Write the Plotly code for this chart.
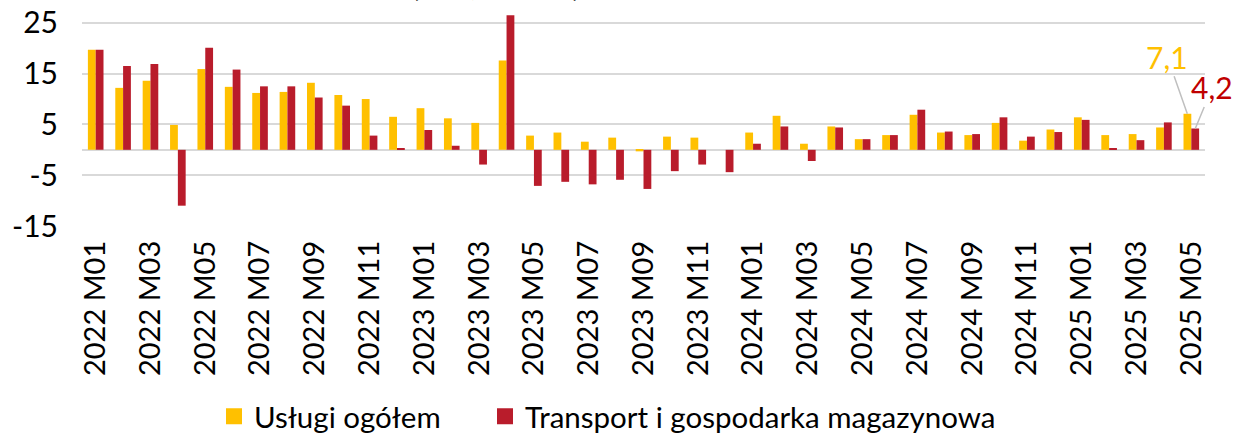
import plotly.graph_objects as go

years_months = []
for y in (2022, 2023, 2024, 2025):
    for m in range(1, 13):
        if y == 2025 and m > 5:
            break
        years_months.append(f"{y} M{m:02d}")
categories = years_months

uslugi = [19.7, 12.2, 13.6, 4.9, 15.9, 12.4, 11.2, 11.4, 13.2, 10.8, 10.0, 6.5,
          8.2, 6.2, 5.3, 17.6, 2.8, 3.4, 1.6, 2.4, -0.3, 2.6, 2.4, 0.0,
          3.4, 6.7, 1.2, 4.6, 2.1, 2.9, 6.9, 3.4, 2.9, 5.3, 1.8, 4.0,
          6.4, 2.9, 3.1, 4.4, 7.1]
transport = [19.7, 16.5, 16.9, -11.0, 20.1, 15.8, 12.5, 12.5, 10.3, 8.7, 2.8, 0.2,
             3.9, 0.8, -2.9, 26.5, -7.1, -6.3, -6.8, -5.9, -7.7, -4.2, -2.9, -4.4,
             1.2, 4.6, -2.2, 4.4, 2.1, 2.9, 7.9, 3.6, 3.1, 6.4, 2.6, 3.5,
             5.9, 0.3, 1.9, 5.4, 4.2]
y_ticks = [-15, -5, 5, 15, 25]
y_ticktext = ["-15", "-5", "5", "15", "25"]
x_ticks = categories[::2]
series_names = ["Usługi ogółem", "Transport i gospodarka magazynowa"]
colors = ["#FFC000", "#B91C2B"]
label_colors = ["#FFC000", "#C00000"]
title_text = "(r/r, w %)"

FONT = "Lato"
fig = go.Figure()
legend_ids = ["legend", "legend2"]
for name, vals, col, lg in zip(series_names, [uslugi, transport], colors, legend_ids):
    fig.add_trace(go.Bar(x=categories, y=vals, name=name, marker_color=col,
                         marker_line_width=0, showlegend=False))
    fig.add_trace(go.Scatter(x=[categories[0]], y=[None], mode="markers", name=name,
                             legend=lg,
                             marker=dict(symbol="square", size=16, color=col)))

legend_common = dict(orientation="h", xref="container", yref="container",
                     xanchor="left", y=0.04, yanchor="middle",
                     font=dict(size=29.5), itemwidth=30, bgcolor="rgba(0,0,0,0)")
fig.update_layout(
    width=1235, height=434,
    margin=dict(l=82, r=30, t=0, b=208),
    paper_bgcolor="white", plot_bgcolor="white",
    barmode="group", bargap=0.43, bargroupgap=0,
    font=dict(family=FONT, size=30, color="#000000"),
    showlegend=True,
    legend=dict(legend_common, x=(226 - 12) / 1235),
    legend2=dict(legend_common, x=(497 - 12) / 1235),
)
fig.update_yaxes(range=[-15, 29.5], tickvals=y_ticks, ticktext=y_ticktext,
                 showgrid=True, gridcolor="#D9D9D9", gridwidth=1.5, zeroline=True,
                 zerolinecolor="#D9D9D9", zerolinewidth=1.5, ticks="",
                 ticklabelstandoff=23, showline=False)
fig.update_xaxes(type="category", range=[-0.5, len(categories) - 0.5],
                 tickvals=x_ticks, ticktext=x_ticks, tickfont=dict(size=29),
                 tickangle=-90, showgrid=False, showline=False, ticks="",
                 ticklabelstandoff=8)

# end labels with leader lines
last = categories[-1]
fig.add_annotation(x=last, y=uslugi[-1], xshift=-4, text=f"{uslugi[-1]:.1f}".replace(".", ","),
                   showarrow=True, arrowhead=0, arrowwidth=1.5, arrowcolor="#BFBFBF",
                   ax=-20, ay=-57, font=dict(color=label_colors[0], size=30))
fig.add_annotation(x=last, y=transport[-1], xshift=4, text=f"{transport[-1]:.1f}".replace(".", ","),
                   showarrow=True, arrowhead=0, arrowwidth=1.5, arrowcolor="#BFBFBF",
                   ax=17, ay=-41, font=dict(color=label_colors[1], size=30))
# cropped title
fig.add_annotation(xref="paper", yref="paper", x=(496 - 82) / 1123, y=1, yanchor="bottom",
                   yshift=-5, text=f"<b>{title_text}</b>", showarrow=False,
                   font=dict(size=44, color="#000000"))

fig.write_html("out.html", config={"displayModeBar": False},
               post_script="document.body.style.margin='0';document.body.style.overflow='hidden';")
